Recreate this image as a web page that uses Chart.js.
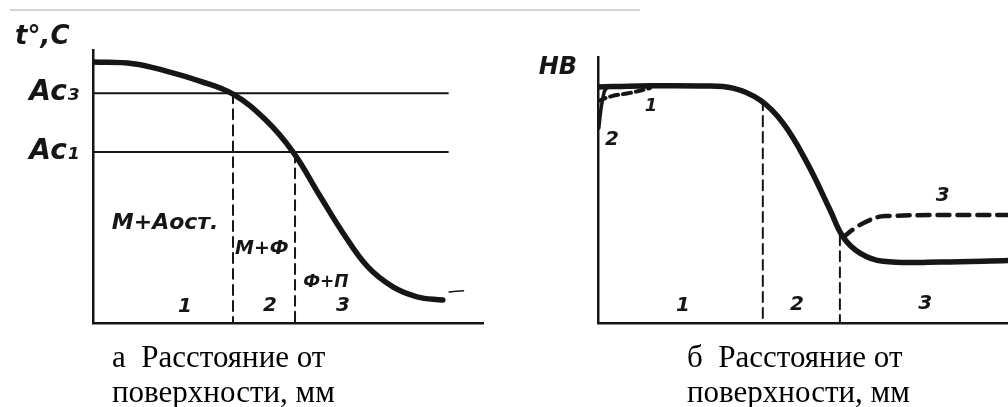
<!DOCTYPE html>
<html><head><meta charset="utf-8">
<script src="https://cdn.jsdelivr.net/npm/chart.js@4/dist/chart.umd.min.js"></script>
<style>
body{margin:0;background:#fff;width:1008px;height:407px;overflow:hidden;position:relative;}
#wa{position:absolute;left:0;top:0;width:500px;height:407px;}
#wb{position:absolute;left:500px;top:0;width:508px;height:407px;}
.cap{position:absolute;font-family:"Liberation Serif","Times New Roman",serif;font-size:31px;line-height:35px;color:#000;white-space:nowrap;}
.scan{position:absolute;left:10px;top:9px;width:630px;height:2px;background:#d4d4d4;}
</style></head><body>
<div class="scan"></div>
<div id="wa"><canvas id="ca"></canvas></div>
<div id="wb"><canvas id="cb"></canvas></div>
<div class="cap" style="left:112px;top:339px">а&nbsp; Расстояние от<br>поверхности, мм</div>
<div class="cap" style="left:687px;top:339px">б&nbsp; Расстояние от<br>поверхности, мм</div>
<script>
// ---- panel а: temperature vs distance from surface ----
const tempX = [0, 10.3, 19, 27.4, 35.9, 44.1, 51.3, 58.2, 64.1, 70.3, 76.9, 83.1, 89.7];
const tempY = [95.6, 95.0, 92.2, 88.6, 83.8, 74.6, 62.6, 46.5, 33, 20.8, 13.2, 9.6, 8.4];
const AC3 = 84.2;
const AC1 = 62.6;
const acLineEndX = 91;
const zoneBoundsA = [35.9, 51.8];
const zoneTopsA = [AC3, AC1];
const tailMarkX = [91.3, 95];
const tailMarkY = [11.4, 11.8];
const labelsA = ['М+Аост.', 'М+Ф', 'Ф+П', '1', '2', '3', 't°,C'];
const labelsAX = [18.5, 43.3, 59.7, 23.6, 45.4, 64.1, -13];
const labelsAY = [36.6, 27.1, 14.7, 5.9, 6.2, 6.2, 104.8];

// ---- panel б: hardness HB vs distance from surface ----
const hbX = [0, 10.2, 24.9, 32.9, 39.5, 45.1, 51, 56.6, 59.8, 63.9, 69.5, 83.4, 100];
const hbY = [88.7, 89.1, 89.1, 88.3, 83.8, 75.2, 60.2, 42.5, 32.3, 26.3, 23.2, 22.9, 23.5];
const hb3X = [59.8, 62.7, 66.3, 70, 100];
const hb3Y = [32.3, 35.7, 38.7, 40.2, 40.6];
const hb1X = [0, 3.4, 7.8, 12.7];
const hb1Y = [83.5, 85.3, 86.5, 88.3];
const hb2X = [0.2, 0.7, 1.5, 2.2];
const hb2Y = [73.3, 80.1, 86.8, 88.7];
const zoneBoundsB = [40.2, 59];
const zoneTopsB = [83.8, 33];
const labelsB = ['1', '2', '3', '1', '2', '3', 'HB'];
const labelsBX = [12.9, 3.4, 84.1, 20.7, 48.5, 79.8, -9.8];
const labelsBY = [81.6, 68.8, 47.7, 6.4, 6.8, 7.1, 95.9];

const INK = '#161616';
const pts = (xs, ys) => xs.map((x, i) => ({x, y: ys[i]}));
const line = (data, w, dash) => ({data, borderColor: INK, borderWidth: w, borderDash: dash || [],
  pointRadius: 0, fill: false, tension: 0.4, borderCapStyle: 'round'});

const textPlugin = {
  id: 'txt',
  afterDatasetsDraw(chart, args, opts) {
    const {ctx, scales: {x, y}} = chart;
    ctx.save();
    ctx.fillStyle = INK;
    ctx.textAlign = 'center';
    ctx.textBaseline = 'middle';
    opts.text.forEach((t, i) => {
      ctx.font = opts.fonts[i];
      ctx.fillText(t, x.getPixelForValue(opts.xs[i]), y.getPixelForValue(opts.ys[i]));
    });
    ctx.restore();
  }
};

function baseScales(yWidth, yTicks) {
  return {
    x: {type: 'linear', min: 0, max: 100,
      grid: {display: false, drawTicks: false},
      border: {display: true, color: INK, width: 2.5},
      ticks: {display: false},
      afterFit: s => { s.height = 84; }},
    y: {type: 'linear', min: 0, max: 100,
      grid: {display: false, drawTicks: false},
      border: {display: true, color: INK, width: 2.5},
      afterFit: s => { s.width = yWidth; },
      ...yTicks}
  };
}

const hand = (sz) => 'italic bold ' + sz + 'px "DejaVu Sans"';

new Chart(document.getElementById('ca'), {
  type: 'line',
  data: {datasets: [
    line(pts(tempX, tempY), 5.5),
    line(pts([0, acLineEndX], [AC3, AC3]), 2),
    line(pts([0, acLineEndX], [AC1, AC1]), 2),
    line(pts([zoneBoundsA[0], zoneBoundsA[0]], [zoneTopsA[0], 0]), 2, [10, 6]),
    line(pts([zoneBoundsA[1], zoneBoundsA[1]], [zoneTopsA[1], 0]), 2, [10, 6]),
    line(pts(tailMarkX, tailMarkY), 1.5)
  ]},
  options: {
    animation: false, responsive: true, maintainAspectRatio: false,
    layout: {padding: {top: 50, right: 17, left: 0, bottom: 0}},
    plugins: {legend: {display: false}, tooltip: {enabled: false},
      txt: {text: labelsA, xs: labelsAX, ys: labelsAY,
        fonts: [hand(22), hand(19), hand(17), hand(20), hand(20), hand(20), hand(26)]}},
    scales: baseScales(93, {
      afterBuildTicks: s => { s.ticks = [{value: AC1}, {value: AC3}]; },
      ticks: {display: true, padding: 14, color: INK,
        font: {family: 'DejaVu Sans', style: 'italic', weight: 'bold', size: 28},
        callback: v => (v === AC3 ? 'Ac₃' : 'Ac₁')}
    })
  },
  plugins: [textPlugin]
});

new Chart(document.getElementById('cb'), {
  type: 'line',
  data: {datasets: [
    line(pts(hbX, hbY), 5.5),
    line(pts(hb3X, hb3Y), 4.5, [12, 8]),
    line(pts(hb1X, hb1Y), 4, [8, 5]),
    line(pts(hb2X, hb2Y), 3.5),
    line(pts([zoneBoundsB[0], zoneBoundsB[0]], [zoneTopsB[0], 0]), 2, [10, 6]),
    line(pts([zoneBoundsB[1], zoneBoundsB[1]], [zoneTopsB[1], 0]), 2, [10, 6])
  ]},
  options: {
    animation: false, responsive: true, maintainAspectRatio: false,
    layout: {padding: {top: 57, right: 0, left: 0, bottom: 0}},
    plugins: {legend: {display: false}, tooltip: {enabled: false},
      txt: {text: labelsB, xs: labelsBX, ys: labelsBY,
        fonts: [hand(18), hand(20), hand(20), hand(20), hand(20), hand(20), hand(24)]}},
    scales: baseScales(98, {ticks: {display: false}})
  },
  plugins: [textPlugin]
});
</script>
</body></html>
